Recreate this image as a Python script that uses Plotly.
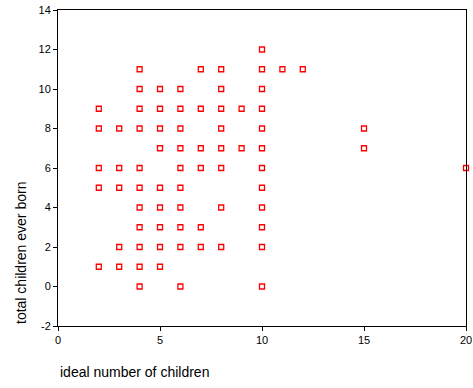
import plotly.graph_objects as go

# ideal number of children (x) vs total children ever born (y)
ideal = [
    2, 2, 2, 2, 2,
    3, 3, 3, 3, 3,
    4, 4, 4, 4, 4, 4, 4, 4, 4, 4, 4,
    5, 5, 5, 5, 5, 5, 5, 5, 5,
    6, 6, 6, 6, 6, 6, 6, 6, 6, 6,
    7, 7, 7, 7, 7, 7,
    8, 8, 8, 8, 8, 8, 8, 8,
    9, 9,
    10, 10, 10, 10, 10, 10, 10, 10, 10, 10, 10, 10,
    11, 12, 15, 15, 20,
]
born = [
    9, 8, 6, 5, 1,
    8, 6, 5, 2, 1,
    11, 10, 9, 8, 6, 5, 4, 3, 2, 1, 0,
    10, 9, 8, 7, 5, 4, 3, 2, 1,
    10, 9, 8, 7, 6, 5, 4, 3, 2, 0,
    11, 9, 7, 6, 3, 2,
    11, 10, 9, 8, 7, 6, 4, 2,
    9, 7,
    12, 11, 10, 9, 8, 7, 6, 5, 4, 3, 2, 0,
    11, 11, 8, 7, 6,
]
x_ticks = [0, 5, 10, 15, 20]
y_ticks = [-2, 0, 2, 4, 6, 8, 10, 12, 14]

fig = go.Figure(go.Scatter(
    x=ideal, y=born, mode="markers",
    marker=dict(symbol="square-open", size=5, color="#ff0000",
                line=dict(width=1.3, color="#ff0000")),
    cliponaxis=False, hoverinfo="x+y",
))

font = dict(family="Liberation Sans, Arial, sans-serif", color="#000000")
axis_common = dict(showgrid=False, zeroline=False, showline=True, linecolor="#000000",
                   linewidth=1, mirror=True, ticks="outside", ticklen=4, tickwidth=1,
                   tickcolor="#000000", tickfont=dict(size=11, **font), automargin=False)

fig.update_layout(
    width=473, height=388,
    margin=dict(l=58, r=7, t=10, b=62, autoexpand=False),
    paper_bgcolor="white", plot_bgcolor="white",
    showlegend=False,
    xaxis=dict(range=[0, 20], tickvals=x_ticks, ticktext=[str(v) for v in x_ticks], **axis_common),
    yaxis=dict(range=[-2, 14], tickvals=y_ticks, ticktext=[str(v) for v in y_ticks], **axis_common),
    annotations=[
        dict(text="ideal number of children", xref="paper", yref="paper",
             x=0, y=-0.1456, xanchor="left", yanchor="middle", showarrow=False,
             font=dict(size=14, **font)),
        dict(text="total children ever born", xref="paper", yref="paper",
             x=-0.0907, y=0, xanchor="center", yanchor="bottom", showarrow=False,
             textangle=-90, font=dict(size=14, **font)),
    ],
)

fig.write_html("out.html")
